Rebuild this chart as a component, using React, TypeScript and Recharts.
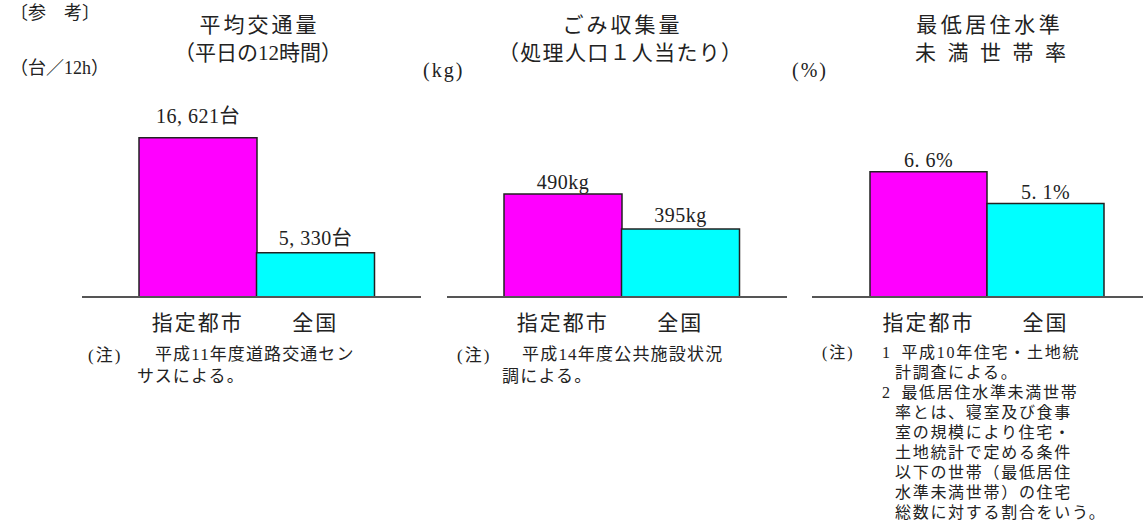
import type { CSSProperties, ReactNode } from 'react';
import { BarChart, Bar, XAxis, YAxis, Cell, LabelList } from 'recharts';

// データ
const categories = ['指定都市', '全国'];
const trafficValues = [16621, 5330];
const garbageValues = [490, 395];
const housingValues = [6.6, 5.1];

const barColors = ['#FF00FF', '#00FFFF'];
// 欧文は明朝風に Liberation Serif、和文は Noto Sans CJK JP
const FONT = '"Liberation Serif", "Noto Sans CJK JP", serif';
const INK = '#222';

interface TextProps {
	x: number;
	y: number;
	size: number;
	anchor?: 'start' | 'middle';
	spacing?: number;
	children: ReactNode;
}

// 絶対配置のテキスト (y は文字の中心)
function T({ x, y, size, anchor = 'start', spacing = 0, children }: TextProps) {
	const style: CSSProperties = {
		position: 'absolute',
		left: x,
		top: y,
		transform: anchor === 'middle' ? 'translate(-50%, -50%)' : 'translate(0, -50%)',
		fontSize: size,
		lineHeight: 1,
		letterSpacing: spacing,
		paddingLeft: anchor === 'middle' ? spacing : 0,
		whiteSpace: 'nowrap',
		fontFamily: FONT,
		color: INK,
	};
	return <div style={style}>{children}</div>;
}

interface NoteProps {
	x: number;
	y: number; // 1行目の中心
	size: number;
	line: number;
	spacing: number;
	indent?: number;
	lines: string[];
}

// 複数行の注記 (1つのブロック)
function Note({ x, y, size, line, spacing, indent = 0, lines }: NoteProps) {
	const style: CSSProperties = {
		position: 'absolute',
		left: x,
		top: y - line / 2,
		fontSize: size,
		lineHeight: `${line}px`,
		letterSpacing: spacing,
		paddingLeft: indent < 0 ? -indent : 0,
		textIndent: indent,
		whiteSpace: 'nowrap',
		fontFamily: FONT,
		color: INK,
	};
	return (
		<div style={style}>
			{lines.map((l, i) => (
				<span key={i}>
					{i > 0 && <br />}
					{l}
				</span>
			))}
		</div>
	);
}

const CategoryTick = (props: any) => (
	<text
		x={props.x}
		y={props.y + 26}
		textAnchor="middle"
		dominantBaseline="central"
		fontSize={21}
		letterSpacing={2}
		fontFamily={FONT}
		fill={INK}
	>
		{props.payload.value}
	</text>
);

interface PanelProps {
	values: number[];
	domain: [number, number];
	format: (v: number) => string;
	lift: number[];
	left: number;
	width: number;
	marginLeft: number;
	marginRight: number;
	padLeft: number;
	padRight: number;
}

function Panel({
	values,
	domain,
	format,
	lift,
	left,
	width,
	marginLeft,
	marginRight,
	padLeft,
	padRight,
}: PanelProps) {
	const data = categories.map((name, i) => ({ name, value: values[i] }));

	const renderLabel = (props: any) => {
		const vb = props.viewBox ?? props;
		const x = Number(props.x ?? vb.x);
		const y = Number(props.y ?? vb.y);
		const w = Number(props.width ?? vb.width);
		const i = props.index ?? 0;
		return (
			<text
				x={x + w / 2}
				y={y - lift[i]}
				textAnchor="middle"
				dominantBaseline="central"
				fontSize={20}
				letterSpacing={0.5}
				fontFamily={FONT}
				fill={INK}
			>
				{format(Number(props.value))}
			</text>
		);
	};

	return (
		<div style={{ position: 'absolute', left, top: 0 }}>
			<BarChart
				width={width}
				height={350}
				data={data}
				margin={{ top: 93, right: marginRight, left: marginLeft, bottom: 0 }}
				barCategoryGap={0}
				barGap={0}
			>
				<XAxis
					dataKey="name"
					interval={0}
					height={53}
					padding={{ left: padLeft, right: padRight }}
					axisLine={{ stroke: '#555', strokeWidth: 2 }}
					tickLine={false}
					tickSize={0}
					tickMargin={0}
					tick={<CategoryTick />}
				/>
				<YAxis
					type="number"
					domain={domain}
					allowDataOverflow
					width={0}
					tick={false}
					tickLine={false}
					axisLine={{ stroke: '#555', strokeWidth: 2 }}
				/>
				<Bar dataKey="value" stroke="#222" strokeWidth={1.5} isAnimationActive={false}>
					{data.map((d, i) => (
						<Cell key={d.name} fill={barColors[i]} />
					))}
					<LabelList dataKey="value" content={renderLabel} />
				</Bar>
			</BarChart>
		</div>
	);
}

export default function App() {
	return (
		<div
			style={{
				position: 'relative',
				width: 1143,
				height: 529,
				background: '#fff',
				overflow: 'hidden',
				fontFamily: FONT,
			}}
		>
			<style>{'body { margin: 0; }'}</style>

			{/* 平均交通量 */}
			<Panel
				values={trafficValues}
				domain={[1000, 21000]}
				format={v => v.toLocaleString('ja-JP').replace(',', ', ') + '台'}
				lift={[22, 15]}
				left={0}
				width={430}
				marginLeft={82}
				marginRight={9}
				padLeft={57}
				padRight={47}
			/>

			{/* ごみ収集量 */}
			<Panel
				values={garbageValues}
				domain={[210, 765]}
				format={v => `${v}kg`}
				lift={[12, 14]}
				left={430}
				width={360}
				marginLeft={17}
				marginRight={3}
				padLeft={57}
				padRight={48}
			/>

			{/* 最低居住水準未満世帯率 */}
			<Panel
				values={housingValues}
				domain={[0.7, 10.3]}
				format={v => v.toFixed(1).replace('.', '. ') + '%'}
				lift={[12, 12]}
				left={790}
				width={353}
				marginLeft={22}
				marginRight={0}
				padLeft={58}
				padRight={39}
			/>

			<T x={10} y={13} size={18}>〔参　考〕</T>

			<T x={258} y={25} size={21} anchor="middle" spacing={3}>平均交通量</T>
			<T x={258} y={53} size={21} anchor="middle">（平日の12時間）</T>
			<T x={10} y={68} size={18}>（台／12h）</T>

			<T x={621} y={25} size={21} anchor="middle" spacing={3}>ごみ収集量</T>
			<T x={620} y={53} size={21} anchor="middle" spacing={1.3}>（処理人口１人当たり）</T>
			<T x={423} y={70} size={20} spacing={2}>(kg)</T>

			<T x={988} y={25} size={21} anchor="middle" spacing={3.5}>最低居住水準</T>
			<T x={915} y={53} size={21} spacing={11.5}>未満世帯率</T>
			<T x={792} y={70} size={20} spacing={2}>(%)</T>

			{/* 注記 */}
			<T x={88} y={355} size={17} spacing={2}>(注)</T>
			<Note
				x={137}
				y={355}
				size={17}
				line={22}
				spacing={1.1}
				indent={18}
				lines={['平成11年度道路交通セン', 'サスによる。']}
			/>

			<T x={457} y={355} size={17} spacing={2}>(注)</T>
			<Note
				x={502}
				y={355}
				size={17}
				line={22}
				spacing={1.2}
				indent={20}
				lines={['平成14年度公共施設状況', '調による。']}
			/>

			<T x={822} y={353} size={16} spacing={2}>(注)</T>
			<Note
				x={882}
				y={353}
				size={16}
				line={20}
				spacing={1.7}
				indent={-13}
				lines={['1\u2002平成10年住宅・土地統', '計調査による。']}
			/>
			<Note
				x={882}
				y={393}
				size={16}
				line={20}
				spacing={1.7}
				indent={-13}
				lines={[
					'2\u2002最低居住水準未満世帯',
					'率とは、寝室及び食事',
					'室の規模により住宅・',
					'土地統計で定める条件',
					'以下の世帯（最低居住',
					'水準未満世帯）の住宅',
					'総数に対する割合をいう。',
				]}
			/>
		</div>
	);
}
